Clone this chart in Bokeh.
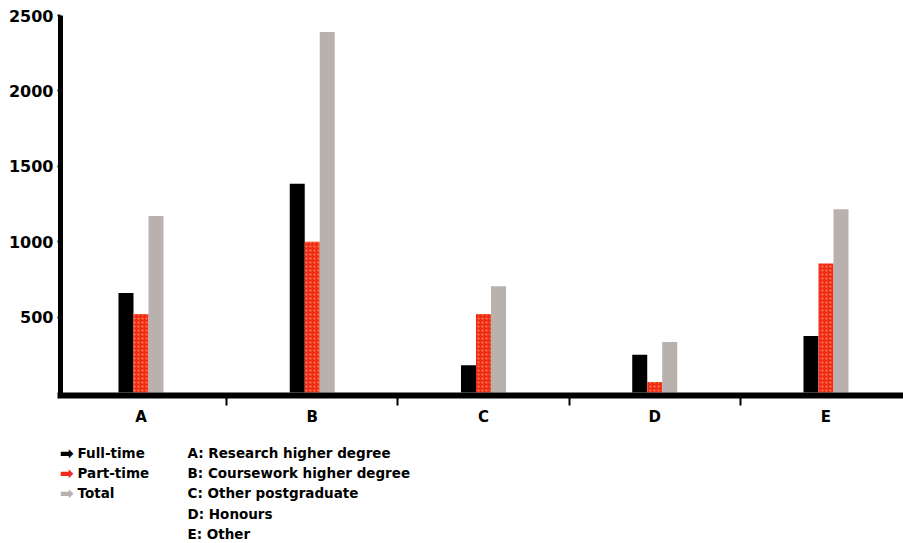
from bokeh.plotting import figure
from bokeh.models import Range1d, FixedTicker, ColumnDataSource
from bokeh.transform import dodge
from bokeh.layouts import column
from bokeh.core.properties import value
from bokeh.embed import file_html
from bokeh.resources import INLINE

# ---- data ----
categories = ["A", "B", "C", "D", "E"]
full_time = [660, 1385, 180, 250, 375]
part_time = [520, 1000, 520, 70, 855]
total = [1170, 2390, 705, 335, 1215]
y_ticks = [500, 1000, 1500, 2000, 2500]
series_names = ["Full-time", "Part-time", "Total"]
category_names = ["A: Research higher degree", "B: Coursework higher degree",
                  "C: Other postgraduate", "D: Honours", "E: Other"]

black = "#000000"
red = "#f22a1e"
grey = "#b9b1ad"
FONT = "DejaVu Sans"

W = 903
LEFT = 60
xpos = [i + 0.5 for i in range(len(categories))]
src = ColumnDataSource(dict(x=xpos, ft=full_time, pt=part_time, tot=total))

p = figure(width=W, height=433, output_backend="svg", toolbar_location=None,
           x_range=Range1d(0.03, 0.03 + (W - LEFT) / 171.25), y_range=Range1d(-20, 2500),
           min_border_left=LEFT, min_border_top=15, min_border_bottom=38, min_border_right=0)
p.outline_line_color = None
p.xgrid.visible = False
p.ygrid.visible = False

bw = 0.0876
p.vbar(x=dodge("x", -bw, range=p.x_range), top="ft", width=bw, source=src,
       fill_color=black, line_color=None)
p.vbar(x=dodge("x", 0.0, range=p.x_range), top="pt", width=bw, source=src,
       fill_color=red, line_color=None, hatch_pattern="dot", hatch_color="#f7a13a",
       hatch_scale=4, hatch_weight=1.2, hatch_alpha=0.8)
p.vbar(x=dodge("x", bw, range=p.x_range), top="tot", width=bw, source=src,
       fill_color=grey, line_color=None)

# y axis
ya = p.yaxis[0]
ya.ticker = FixedTicker(ticks=y_ticks)
ya.axis_line_width = 5
ya.major_tick_out = 3
ya.major_tick_in = 0
ya.major_tick_line_width = 2
ya.minor_tick_line_color = None
ya.major_label_standoff = 4
ya.major_label_text_font = FONT
ya.major_label_text_font_style = "bold"
ya.major_label_text_font_size = "16px"
ya.major_label_text_color = "black"

# x axis
xa = p.xaxis[0]
xa.ticker = FixedTicker(ticks=xpos, minor_ticks=[1, 2, 3, 4])
xa.major_label_overrides = {x: c for x, c in zip(xpos, categories)}
xa.axis_line_width = 6
xa.axis_line_cap = "square"
xa.major_tick_out = 0
xa.major_tick_in = 0
xa.minor_tick_out = 10
xa.minor_tick_in = 0
xa.minor_tick_line_width = 2
xa.major_label_standoff = 2
xa.major_label_text_font = FONT
xa.major_label_text_font_style = "bold"
xa.major_label_text_font_size = "15px"
xa.major_label_text_color = "black"

# ---- legend figure (frame aligned with main frame: x data == page px) ----
LH = 108
leg = figure(width=W, height=LH, output_backend="svg", toolbar_location=None,
             x_range=Range1d(LEFT, W), y_range=Range1d(LH, 0),
             x_axis_location=None, y_axis_location=None,
             min_border_left=LEFT, min_border_right=0,
             min_border_top=0, min_border_bottom=0)
leg.outline_line_color = None
leg.xgrid.visible = False
leg.ygrid.visible = False

rows = [19, 39, 59, 80, 100]
leg.text(x=[66] * 3, y=rows[:3], text=["\u27a1"] * 3, text_color=[black, red, grey],
         text_font=value(FONT), text_font_style="bold", text_font_size="17px",
         text_align="center", text_baseline="middle")
leg.text(x=[77] * 3, y=rows[:3], text=series_names, text_color="black",
         text_font=value(FONT), text_font_style="bold", text_font_size="13.5px",
         text_align="left", text_baseline="middle")
leg.text(x=[187] * 5, y=rows, text=category_names, text_color="black",
         text_font=value(FONT), text_font_style="bold", text_font_size="13.5px",
         text_align="left", text_baseline="middle")

layout = column(p, leg, spacing=0)
open("out.html", "w").write(file_html(layout, INLINE))
